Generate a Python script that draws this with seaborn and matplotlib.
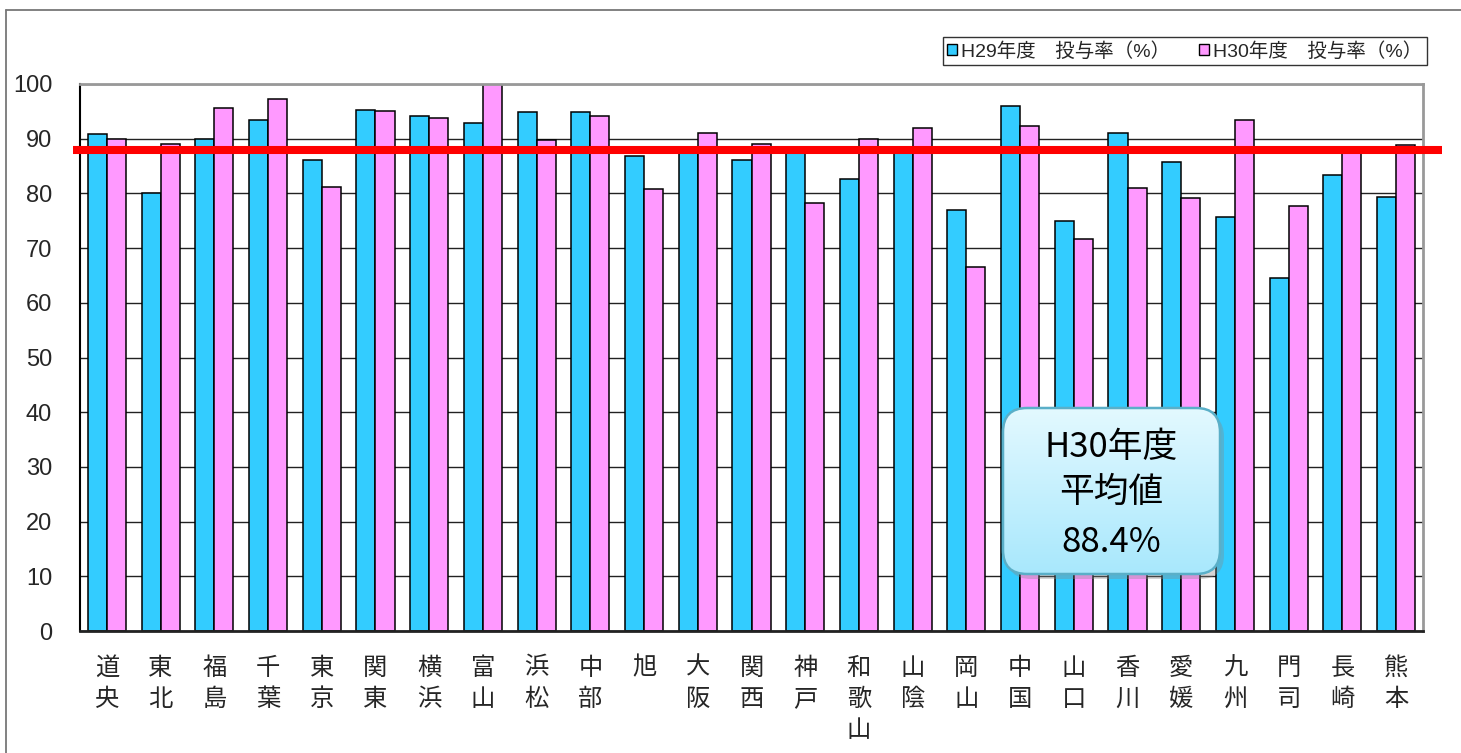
import numpy as np
import pandas as pd
import matplotlib
matplotlib.use("Agg")
from matplotlib import pyplot as plt
from matplotlib.patches import FancyBboxPatch
from matplotlib.ticker import FixedLocator
import seaborn as sns

# data
regions = ["道央", "東北", "福島", "千葉", "東京", "関東", "横浜", "富山", "浜松", "中部",
           "旭", "大阪", "関西", "神戸", "和歌山", "山陰", "岡山", "中国", "山口", "香川",
           "愛媛", "九州", "門司", "長崎", "熊本"]
h29 = [90.9, 80.0, 90.0, 93.4, 86.1, 95.3, 94.1, 92.9, 94.8, 94.9,
       86.9, 88.0, 86.1, 88.0, 82.7, 88.0, 77.0, 96.0, 74.9, 91.0,
       85.7, 75.6, 64.5, 83.3, 79.3]
h30 = [90.0, 89.0, 95.6, 97.3, 81.2, 95.0, 93.7, 100.0, 89.8, 94.2,
       80.8, 91.1, 89.0, 78.2, 90.0, 92.0, 66.5, 92.3, 71.6, 80.9,
       79.1, 93.4, 77.7, 88.0, 88.8]
series_names = ["H29年度　投与率（%）", "H30年度　投与率（%）"]
avg_line = 87.9
avg_label = ["H30年度", "平均値", "88.4%"]
yticks = list(range(0, 101, 10))

sns.set_style("white")
plt.rcParams['font.family'] = ['Liberation Sans', 'Noto Sans CJK JP', 'DejaVu Sans']

df = pd.DataFrame({
    'region': regions * 2,
    'rate': h29 + h30,
    'year': [series_names[0]] * len(regions) + [series_names[1]] * len(regions),
})

fig = plt.figure(figsize=(14.61, 7.53), dpi=100)
ax = fig.add_axes([80 / 1461, 1 - 631 / 753, 1343 / 1461, 547 / 753])

sns.barplot(data=df, x='region', y='rate', hue='year', palette=['#33CCFF', '#FF99FF'],
            saturation=1, width=0.71, edgecolor='black', linewidth=1.1,
            errorbar=None, ax=ax)

ax.set_ylim(0, 100)
ax.set_xlim(-0.5, len(regions) - 0.5)
ax.set_yticks(yticks)
ax.set_yticklabels([str(t) for t in yticks], fontsize=17)
ax.set_xlabel('')
ax.set_ylabel('')
ax.set_axisbelow(True)
ax.yaxis.grid(True, color='#222222', linewidth=1)
ax.xaxis.grid(False)

ax.set_xticks(range(len(regions)))
ax.set_xticklabels(["\n".join(r) for r in regions], fontsize=17.5, linespacing=1.27,
                   family=['Noto Sans CJK JP'], va='top')
ax.tick_params(axis='x', which='major', length=0, pad=17)
ax.xaxis.set_minor_locator(FixedLocator(np.arange(0.5, len(regions) - 0.5, 1)))
ax.tick_params(axis='x', which='minor', direction='in', length=5, width=1, color='#444444')
ax.tick_params(axis='y', which='major', direction='out', length=6, width=1, color='black', pad=14)

for side in ['top', 'right']:
    ax.spines[side].set_color('#999999')
    ax.spines[side].set_linewidth(2)
ax.spines['left'].set_color('black')
ax.spines['left'].set_linewidth(1.5)
ax.spines['bottom'].set_color('#222222')
ax.spines['bottom'].set_linewidth(2)

# average line, reaching a little past the plot area
ax.axhline(avg_line, xmin=-0.0052, xmax=1.014, color='#FF0000', linewidth=5.8,
           solid_capstyle='butt', clip_on=False, zorder=10)

leg = ax.legend(loc='upper right', bbox_to_anchor=(1.003, 1.086), borderaxespad=0,
                ncol=2, fontsize=14, frameon=True, fancybox=False,
                handlelength=0.5, handleheight=0.5, handletextpad=0.2,
                columnspacing=1.5, borderpad=0.25)
leg.get_frame().set_edgecolor('black')
leg.get_frame().set_linewidth(1)
for h in leg.legend_handles:
    h.set_edgecolor('black')
    h.set_linewidth(1)

# overlay in pixel coordinates for the frame and the call-out box
ov = fig.add_axes([0, 0, 1, 1])
ov.set_xlim(0, 1461)
ov.set_ylim(753, 0)
ov.axis('off')
ov.patch.set_alpha(0)

ov.plot([6, 1461], [10, 10], color='#777777', linewidth=1.3)
ov.plot([6, 6], [10, 753], color='#777777', linewidth=1.3)

bx, by, bw, bh = 1003, 408, 217, 166
shadow = FancyBboxPatch((bx + 4, by + 5), bw, bh, boxstyle="round,pad=0,rounding_size=24",
                        facecolor='#888888', edgecolor='none', alpha=0.35, zorder=20)
ov.add_patch(shadow)
box = FancyBboxPatch((bx, by), bw, bh, boxstyle="round,pad=0,rounding_size=24",
                     facecolor='none', edgecolor='#5AAFC8', linewidth=1.8, zorder=22)
ov.add_patch(box)
grad = np.linspace(0, 1, 256).reshape(-1, 1)
top_c = np.array([0.89, 0.975, 1.0])
bot_c = np.array([0.66, 0.91, 0.99])
img = top_c[None, None, :] * (1 - grad[:, :, None]) + bot_c[None, None, :] * grad[:, :, None]
im = ov.imshow(img, extent=(bx, bx + bw, by + bh, by), aspect='auto', zorder=21)
clip = FancyBboxPatch((bx, by), bw, bh, boxstyle="round,pad=0,rounding_size=24",
                      facecolor='none', edgecolor='none', transform=ov.transData)
im.set_clip_path(clip)
ov.set_xlim(0, 1461)
ov.set_ylim(753, 0)

for txt, ty in zip(avg_label, [447, 492, 543]):
    ov.text(bx + bw / 2, ty, txt, ha='center', va='center', fontsize=25,
            family=['Noto Sans CJK JP'], color='black', zorder=23)

fig.savefig('out.png', dpi=100)
